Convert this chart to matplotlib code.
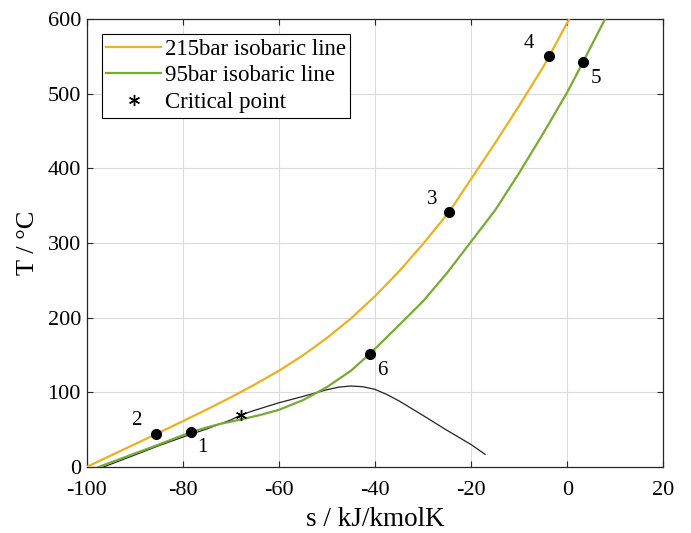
import matplotlib.pyplot as plt

plt.rcParams["font.family"] = ["Liberation Serif", "DejaVu Serif"]
plt.rcParams["axes.unicode_minus"] = False

# 215 bar isobar (s in kJ/kmolK, T in degC)
s_215 = [-100.0, -95.0, -90.0, -85.5, -80.0, -75.0, -70.0, -65.0, -60.0, -55.0,
         -50.0, -45.0, -40.0, -35.0, -30.0, -24.6, -20.0, -15.0, -10.0, -5.0,
         -3.75, 0.4]
T_215 = [0.0, 15.2, 30.4, 44.2, 61.3, 77.0, 93.3, 110.5, 128.8, 149.5,
         172.8, 199.0, 228.8, 262.0, 298.8, 341.5, 385.8, 434.0, 484.0, 536.0,
         550.4, 600.0]

# 95 bar isobar
s_95 = [-97.5, -90.0, -85.0, -80.0, -78.3, -75.0, -72.0, -68.0, -64.0, -60.0,
        -55.0, -50.0, -45.0, -41.0, -35.0, -30.0, -25.0, -20.0, -15.0, -10.0,
        -5.0, 0.0, 3.3, 7.85]
T_95 = [0.0, 18.0, 30.0, 42.5, 46.5, 53.0, 58.0, 63.5, 69.5, 76.5,
        89.5, 107.0, 129.0, 152.0, 190.0, 222.0, 260.0, 302.0, 344.0, 394.0,
        447.0, 502.0, 542.8, 600.0]

# two-phase dome
s_dome = [-96.5, -90.0, -85.0, -80.0, -75.0, -70.0, -67.9, -65.0, -60.0, -55.0,
          -50.0, -47.5, -45.0, -42.5, -40.0, -37.5, -35.0, -30.0, -25.0, -20.0,
          -17.1]
T_dome = [0.0, 16.0, 28.5, 40.0, 51.0, 63.0, 69.6, 76.0, 86.0, 94.5,
          103.5, 107.0, 108.5, 107.5, 104.0, 97.0, 88.5, 69.0, 49.0, 30.0,
          17.0]

critical_s, critical_T = -67.9, 69.6

# cycle state points
state_names = ["1", "2", "3", "4", "5", "6"]
state_s = [-78.3, -85.5, -24.6, -3.75, 3.3, -41.0]
state_T = [46.5, 44.2, 341.5, 550.4, 542.8, 152.0]
label_offsets = [(8, -11), (-14, 10), (-12, 9), (-15, 9), (9, -12), (9, -12)]

orange = "#EDB120"
green = "#77AC30"

fig = plt.figure(figsize=(6.91, 5.33), dpi=100)
ax = fig.add_axes([0.1252, 0.1238, 0.835, 0.8406])

ax.plot(s_215, T_215, color=orange, lw=1.6, label="215bar isobaric line", zorder=3)
ax.plot(s_95, T_95, color=green, lw=1.6, label="95bar isobaric line", zorder=3)
ax.plot(s_dome, T_dome, color="#222222", lw=0.9, zorder=2)
ax.plot([critical_s], [critical_T], ls="none", marker=(6, 2, 0), ms=8,
        mec="black", mew=1.0, label="Critical point", zorder=4)
ax.plot(state_s, state_T, ls="none", marker="o", ms=7, color="black", zorder=5)

for name, s, T, off in zip(state_names, state_s, state_T, label_offsets):
    ax.annotate(name, (s, T), xytext=off, textcoords="offset points",
                ha="center", va="center", fontsize=15)

ax.set_xlim(-100, 20)
ax.set_ylim(0, 600)
ax.set_xticks(range(-100, 21, 20))
ax.set_yticks(range(0, 601, 100))
ax.grid(True, color="#dcdcdc", lw=0.8)
ax.set_axisbelow(True)
ax.tick_params(direction="in", top=True, right=True, labelsize=16,
               color="#262626", length=4)
ax.tick_params(axis="x", pad=10)
ax.tick_params(axis="y", pad=4)
for sp in ax.spines.values():
    sp.set_color("#262626")
    sp.set_linewidth(0.9)

ax.set_xlabel("s / kJ/kmolK", fontsize=19.5, labelpad=5)
ax.set_ylabel("T / °C", fontsize=19, labelpad=6)

leg = ax.legend(loc="upper left", bbox_to_anchor=(0.026, 0.9665), borderaxespad=0,
                fontsize=16.5, frameon=True, fancybox=False, edgecolor="black",
                framealpha=1, handlelength=2.4, handletextpad=0.15,
                labelspacing=0.25, borderpad=0.2)
leg.get_frame().set_linewidth(0.8)

fig.savefig("out.png", dpi=100)
